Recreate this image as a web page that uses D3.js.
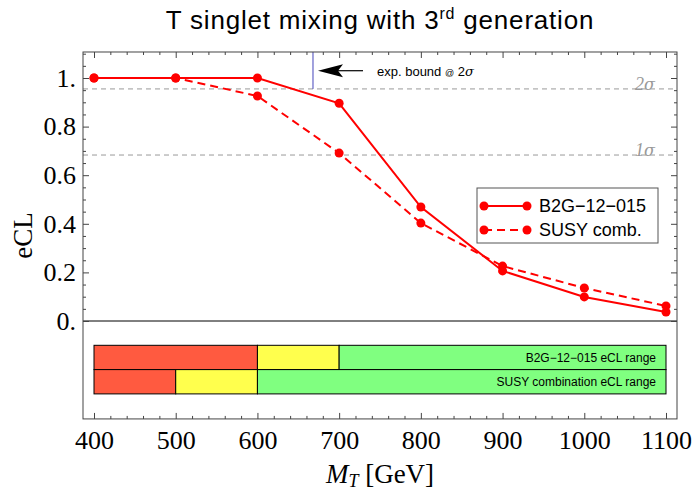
<!DOCTYPE html>
<html>
<head>
<meta charset="utf-8">
<script src="https://cdn.jsdelivr.net/npm/d3@7"></script>
<style>
  body { margin: 0; background: #fff; }
</style>
</head>
<body>
<svg id="chart" width="693" height="493"></svg>
<script>
// data
const masses = [400, 500, 600, 700, 800, 900, 1000, 1100];
const b2gValues = [1.0, 1.0, 1.0, 0.896, 0.469, 0.206, 0.099, 0.037];
const susyValues = [1.0, 1.0, 0.926, 0.691, 0.403, 0.226, 0.136, 0.062];
const seriesNames = ['B2G\u221212\u2212015', 'SUSY comb.'];
const sigmaLevels = [0.955, 0.683];
const sigmaLabels = ['2', '1'];
const expBound = 668;
const xTicks = [400, 500, 600, 700, 800, 900, 1000, 1100];
const yTicks = [0, 0.2, 0.4, 0.6, 0.8, 1.0];
const yTickLabels = ['0.', '0.2', '0.4', '0.6', '0.8', '1.'];
// eCL range bars: [from, to, level]
const b2gRanges = [[400, 600, 'red'], [600, 700, 'yellow'], [700, 1100, 'green']];
const susyRanges = [[400, 500, 'red'], [500, 600, 'yellow'], [600, 1100, 'green']];
const rangeLabels = ['B2G\u221212\u2212015 eCL range', 'SUSY combination eCL range'];

const rangeColors = { red: '#ff5a40', yellow: '#ffff4d', green: '#80ff80' };

const svg = d3.select('#chart');

const x = d3.scaleLinear().domain([400, 1100]).range([94, 666]);
const y = d3.scaleLinear().domain([0, 1]).range([321, 78]);

const xMin = x.invert(83), xMax = x.invert(677);
const yTop = 1.107, yBottom = -0.403;
const frameCx = (x(xMin) + x(xMax)) / 2;
const frameCy = (y(yTop) + y(yBottom)) / 2;

// title
const title = svg.append('text')
    .attr('x', frameCx)
    .attr('y', 29)
    .attr('text-anchor', 'middle')
    .style('font-family', 'Liberation Sans, Arial, sans-serif')
    .style('font-size', '26px')
    .style('letter-spacing', '0.8px')
    .text('T singlet mixing with 3');
title.append('tspan').attr('dy', -10).style('font-size', '16px').text('rd');
title.append('tspan').attr('dy', 10).text(' generation');

// range bars
const rangeRows = [b2gRanges, susyRanges];
rangeRows.forEach((row, i) => {
    const top = -0.1 - 0.1 * i, bottom = top - 0.1;
    svg.append('g')
        .selectAll('rect')
        .data(row)
        .enter()
        .append('rect')
        .attr('x', d => x(d[0]))
        .attr('y', y(top))
        .attr('width', d => x(d[1]) - x(d[0]))
        .attr('height', y(bottom) - y(top))
        .style('fill', d => rangeColors[d[2]])
        .style('stroke', '#000')
        .style('stroke-width', 1);
    svg.append('text')
        .attr('x', x(1100) - 10)
        .attr('y', (y(top) + y(bottom)) / 2 + 4.5)
        .attr('text-anchor', 'end')
        .style('font-family', 'Liberation Sans, Arial, sans-serif')
        .style('font-size', '12px')
        .text(rangeLabels[i]);
});

// sigma lines
sigmaLevels.forEach((s, i) => {
    svg.append('line')
        .attr('x1', x(xMin)).attr('x2', x(xMax))
        .attr('y1', y(s)).attr('y2', y(s))
        .style('stroke', '#999')
        .style('stroke-width', 1)
        .style('stroke-dasharray', '5,4');
    const lbl = svg.append('text')
        .attr('x', 645)
        .attr('y', y(s) + 1)
        .attr('text-anchor', 'middle')
        .style('font-family', 'Liberation Serif, serif')
        .style('font-style', 'italic')
        .style('font-size', '18px')
        .style('fill', '#999')
        .text(sigmaLabels[i]);
    lbl.append('tspan').style('font-family', 'DejaVu Serif, serif').style('font-size', '16px').text('\u03c3');
});

// zero line
svg.append('line')
    .attr('x1', x(xMin)).attr('x2', x(xMax))
    .attr('y1', y(0)).attr('y2', y(0))
    .style('stroke', '#000')
    .style('stroke-width', 1);

// experimental bound
svg.append('line')
    .attr('x1', x(expBound)).attr('x2', x(expBound))
    .attr('y1', y(yTop)).attr('y2', y(sigmaLevels[0]))
    .style('stroke', '#4444bb')
    .style('stroke-width', 1);
const arrowY = y(1.03);
svg.append('line')
    .attr('x1', x(expBound) + 22).attr('x2', x(expBound) + 50)
    .attr('y1', arrowY).attr('y2', arrowY)
    .style('stroke', '#000')
    .style('stroke-width', 1.2);
svg.append('path')
    .attr('d', d3.line()([[x(expBound) + 5, arrowY], [x(expBound) + 30, arrowY - 6.5],
        [x(expBound) + 25, arrowY], [x(expBound) + 30, arrowY + 6.5]]) + 'Z')
    .style('fill', '#000');
const bound = svg.append('text')
    .attr('x', x(expBound) + 64)
    .attr('y', arrowY + 5)
    .style('font-family', 'Liberation Sans, Arial, sans-serif')
    .style('font-size', '13px')
    .text('exp. bound ');
bound.append('tspan').style('font-size', '9px').text('@');
bound.append('tspan').text(' 2');
bound.append('tspan').style('font-family', 'DejaVu Serif, serif').style('font-style', 'italic').text('\u03c3');

// series
const line = d3.line().x(d => x(d[0])).y(d => y(d[1]));
const series = [
    { data: masses.map((m, i) => [m, b2gValues[i]]), dash: null },
    { data: masses.map((m, i) => [m, susyValues[i]]), dash: '8,5' }
];
series.forEach(s => {
    svg.append('path')
        .attr('d', line(s.data))
        .style('fill', 'none')
        .style('stroke', '#ff0000')
        .style('stroke-width', 2)
        .style('stroke-dasharray', s.dash);
    svg.append('g')
        .selectAll('circle')
        .data(s.data)
        .enter()
        .append('circle')
        .attr('cx', d => x(d[0]))
        .attr('cy', d => y(d[1]))
        .attr('r', 4.5)
        .style('fill', '#ff0000');
});

// frame
svg.append('rect')
    .attr('x', x(xMin)).attr('y', y(yTop))
    .attr('width', x(xMax) - x(xMin))
    .attr('height', y(yBottom) - y(yTop))
    .style('fill', 'none')
    .style('stroke', '#444')
    .style('stroke-width', 1);

// ticks
const minorX = d3.range(400, 1101, 20).filter(v => v % 100 !== 0);
const minorY = d3.range(0, 1.101, 0.05).filter(v => Math.abs(v * 5 - Math.round(v * 5)) > 1e-6);
function styleAxis(g) {
    g.select('.domain').remove();
    g.selectAll('.tick line').style('stroke', '#444');
}
function styleLabels(g) {
    g.selectAll('text')
        .style('font-family', 'Liberation Serif, serif')
        .style('font-size', '26px')
        .style('fill', '#000');
}
svg.append('g').attr('transform', `translate(0,${y(yBottom)})`)
    .call(d3.axisBottom(x).tickValues(xTicks).tickSize(-6).tickPadding(12)
        .tickFormat(d3.format('d')))
    .call(styleAxis)
    .call(styleLabels);
svg.append('g').attr('transform', `translate(0,${y(yBottom)})`)
    .call(d3.axisBottom(x).tickValues(minorX).tickSize(-3).tickFormat(''))
    .call(styleAxis);
svg.append('g').attr('transform', `translate(0,${y(yTop)})`)
    .call(d3.axisTop(x).tickValues(xTicks).tickSize(-6).tickFormat(''))
    .call(styleAxis);
svg.append('g').attr('transform', `translate(0,${y(yTop)})`)
    .call(d3.axisTop(x).tickValues(minorX).tickSize(-3).tickFormat(''))
    .call(styleAxis);
svg.append('g').attr('transform', `translate(${x(xMin)},0)`)
    .call(d3.axisLeft(y).tickValues(yTicks).tickSize(-6).tickPadding(7)
        .tickFormat((d, i) => yTickLabels[i]))
    .call(styleAxis)
    .call(styleLabels);
svg.append('g').attr('transform', `translate(${x(xMin)},0)`)
    .call(d3.axisLeft(y).tickValues(minorY).tickSize(-3).tickFormat(''))
    .call(styleAxis);
svg.append('g').attr('transform', `translate(${x(xMax)},0)`)
    .call(d3.axisRight(y).tickValues(yTicks).tickSize(-6).tickFormat(''))
    .call(styleAxis);
svg.append('g').attr('transform', `translate(${x(xMax)},0)`)
    .call(d3.axisRight(y).tickValues(minorY).tickSize(-3).tickFormat(''))
    .call(styleAxis);

// axis labels
svg.append('text')
    .attr('transform', `translate(32,${frameCy})rotate(-90)`)
    .attr('text-anchor', 'middle')
    .style('font-family', 'Liberation Serif, serif')
    .style('font-size', '27px')
    .text('eCL');
const xLabel = svg.append('text')
    .attr('x', frameCx)
    .attr('y', 483)
    .attr('text-anchor', 'middle')
    .style('font-family', 'Liberation Serif, serif')
    .style('font-size', '27px');
xLabel.append('tspan').style('font-style', 'italic').text('M');
xLabel.append('tspan').attr('dy', 4).style('font-style', 'italic').style('font-size', '18px').text('T');
xLabel.append('tspan').attr('dy', -4).text(' [GeV]');

// legend
const legend = svg.append('g').attr('transform', 'translate(477,188)');
legend.append('rect')
    .attr('width', 181).attr('height', 55)
    .style('fill', '#fff')
    .style('stroke', '#555')
    .style('stroke-width', 1);
series.forEach((s, i) => {
    const ly = 18 + i * 24;
    legend.append('line')
        .attr('x1', 7).attr('x2', 50)
        .attr('y1', ly).attr('y2', ly)
        .style('stroke', '#ff0000')
        .style('stroke-width', 2)
        .style('stroke-dasharray', s.dash);
    [7, 50].forEach(cx => legend.append('circle')
        .attr('cx', cx).attr('cy', ly).attr('r', 4.5)
        .style('fill', '#ff0000'));
    legend.append('text')
        .attr('x', 62)
        .attr('y', ly + 6)
        .style('font-family', 'Liberation Sans, Arial, sans-serif')
        .style('font-size', '18px')
        .text(seriesNames[i]);
});
</script>
</body>
</html>
